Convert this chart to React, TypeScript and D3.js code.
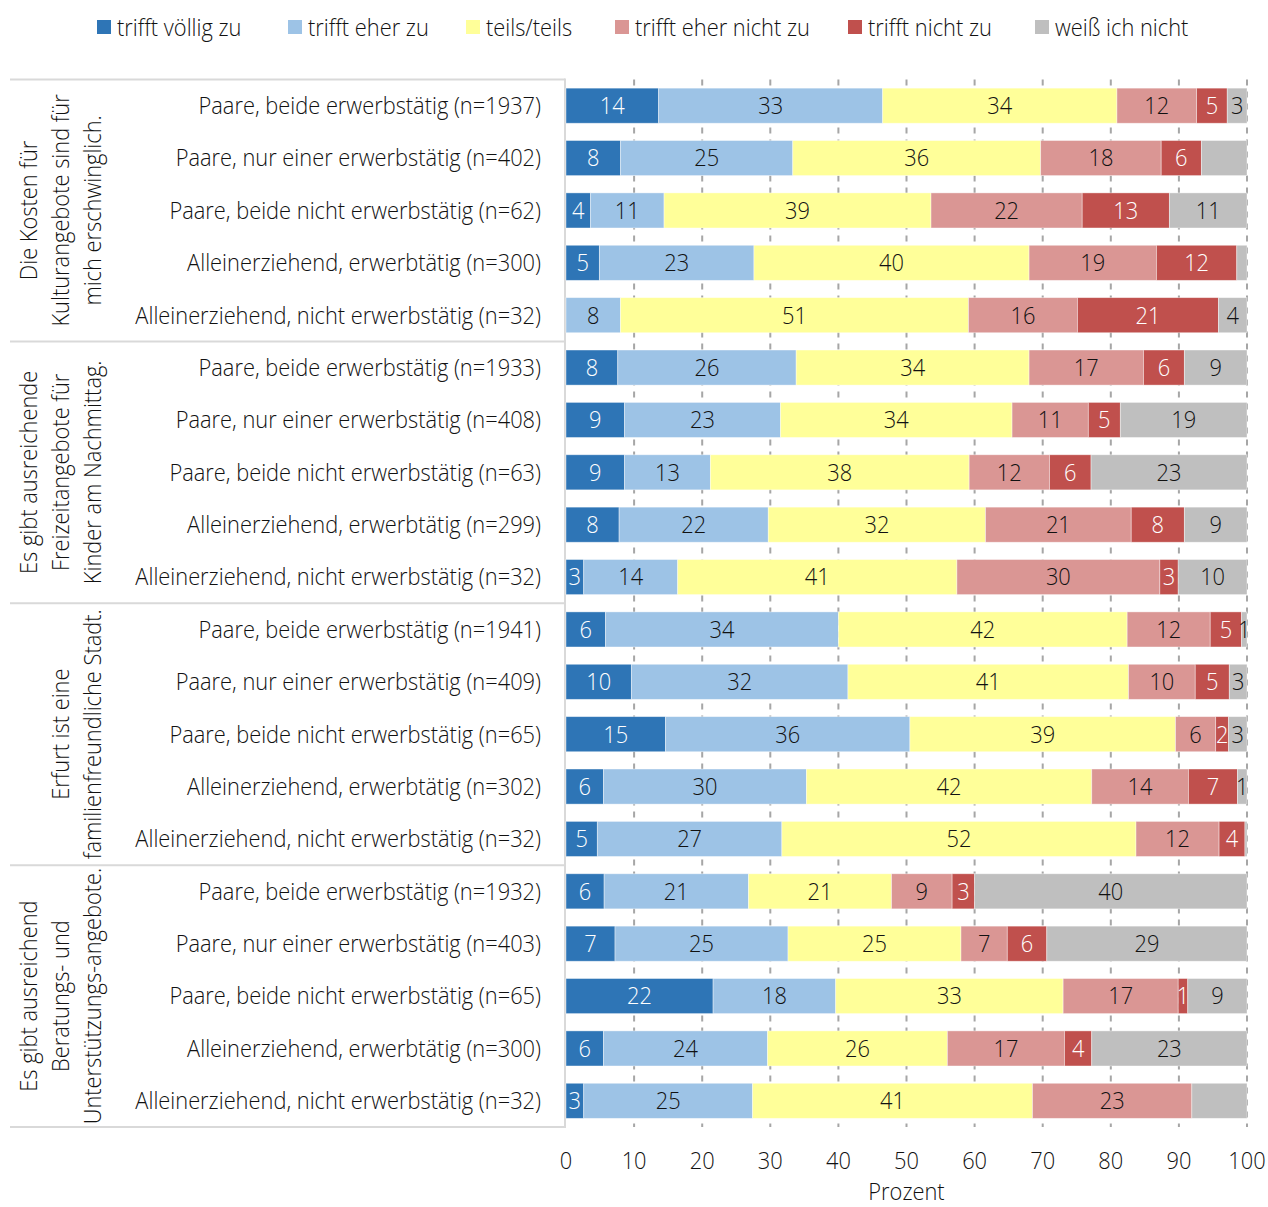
import React from "react";
import * as d3 from "d3";

const seriesNames = ["trifft völlig zu", "trifft eher zu", "teils/teils", "trifft eher nicht zu", "trifft nicht zu", "weiß ich nicht"];
const seriesColors = ["#2E75B6", "#9DC3E6", "#FFFF99", "#DA9694", "#C0504D", "#BFBFBF"];
const labelColors = ["#ffffff", "#111111", "#111111", "#111111", "#ffffff", "#111111"];

const categories = [
  "Paare, beide erwerbstätig (n=1937)",
  "Paare, nur einer erwerbstätig (n=402)",
  "Paare, beide nicht erwerbstätig (n=62)",
  "Alleinerziehend, erwerbtätig (n=300)",
  "Alleinerziehend, nicht erwerbstätig (n=32)",
  "Paare, beide erwerbstätig (n=1933)",
  "Paare, nur einer erwerbstätig (n=408)",
  "Paare, beide nicht erwerbstätig (n=63)",
  "Alleinerziehend, erwerbtätig (n=299)",
  "Alleinerziehend, nicht erwerbstätig (n=32)",
  "Paare, beide erwerbstätig (n=1941)",
  "Paare, nur einer erwerbstätig (n=409)",
  "Paare, beide nicht erwerbstätig (n=65)",
  "Alleinerziehend, erwerbtätig (n=302)",
  "Alleinerziehend, nicht erwerbstätig (n=32)",
  "Paare, beide erwerbstätig (n=1932)",
  "Paare, nur einer erwerbstätig (n=403)",
  "Paare, beide nicht erwerbstätig (n=65)",
  "Alleinerziehend, erwerbtätig (n=300)",
  "Alleinerziehend, nicht erwerbstätig (n=32)",
];

const groupLabels = [
  ["Die Kosten für", "Kulturangebote sind für", "mich erschwinglich."],
  ["Es gibt ausreichende", "Freizeitangebote für", "Kinder am Nachmittag."],
  ["Erfurt ist eine", "familienfreundliche Stadt."],
  ["Es gibt ausreichend", "Beratungs- und", "Unterstützungs-angebote."],
];

const trifftVoellig = [13.6, 8.0, 3.6, 4.9, 0, 7.6, 8.6, 8.6, 7.8, 2.6, 5.8, 9.6, 14.6, 5.5, 4.6, 5.6, 7.2, 21.6, 5.5, 2.6];
const trifftEher = [32.9, 25.3, 10.8, 22.7, 8.0, 26.2, 22.9, 12.6, 21.9, 13.8, 34.2, 31.8, 35.9, 29.8, 27.1, 21.2, 25.4, 18.0, 24.1, 24.8];
const teilsTeils = [34.4, 36.4, 39.2, 40.4, 51.1, 34.2, 34.0, 38.0, 31.9, 41.0, 42.4, 41.2, 39.0, 41.9, 52.0, 21.0, 25.4, 33.4, 26.4, 41.1];
const eherNicht = [11.7, 17.7, 22.2, 18.7, 16.0, 16.8, 11.2, 11.8, 21.4, 29.8, 12.2, 9.8, 5.9, 14.2, 12.2, 8.9, 6.8, 16.9, 17.2, 23.4];
const trifftNicht = [4.5, 5.9, 12.8, 11.8, 20.7, 6.0, 4.7, 6.1, 7.8, 2.7, 4.6, 5.0, 1.9, 7.2, 3.8, 3.3, 5.8, 1.4, 4.0, 0];
const weissNicht = [2.9, 6.7, 11.4, 1.5, 4.2, 9.2, 18.6, 22.9, 9.2, 10.1, 0.8, 2.6, 2.7, 1.4, 0.3, 40.0, 29.4, 8.7, 22.8, 8.1];

// labels not printed in the original: [row, series]
const hiddenLabels = [[1, 5], [3, 5], [14, 5], [19, 5]];

const xTicks = [0, 10, 20, 30, 40, 50, 60, 70, 80, 90, 100];
const xTitle = "Prozent";

const FONT = "'Open Sans', 'Noto Sans', sans-serif";
const FS = 24;
const SX = 0.91;

function T({ x, y, anchor = "start", rotate = 0, fill = "#111111", children }: any) {
  return (
    <text
      transform={`translate(${x},${y}) rotate(${rotate}) scale(${SX},1)`}
      textAnchor={anchor}
      dominantBaseline="central"
      fontSize={FS}
      fill={fill}
      style={{ fontFamily: FONT, fontStretch: "normal", fontWeight: 300 }}
    >
      {children}
    </text>
  );
}

export default function App() {
  const W = 1268, H = 1207;
  const top = 79.5, bottom = 1127;
  const x = d3.scaleLinear().domain([0, 100]).range([566, 1247]);
  const y = d3.scaleBand<number>().domain(d3.range(categories.length)).range([top, bottom]).paddingInner(0.33).paddingOuter(0.165);
  const series = [trifftVoellig, trifftEher, teilsTeils, eherNicht, trifftNicht, weissNicht];
  const table = categories.map((c, i) => {
    const o: any = { cat: i };
    series.forEach((s, k) => (o["s" + k] = s[i]));
    return o;
  });
  const stack = d3.stack<any>().keys(series.map((_, k) => "s" + k))(table);
  const isHidden = (r: number, k: number) => hiddenLabels.some(([a, b]) => a === r && b === k);
  const band = (bottom - top) / categories.length;
  const groupSep = [0, 5, 10, 15, 20].map((i) => top + i * band);
  const legendX = [97, 288, 466, 615, 848, 1035];
  const cyOf = (i: number) => y(i)! + y.bandwidth() / 2 - 1;

  return (
    <svg width={W} height={H} style={{ display: "block", position: "absolute", left: 0, top: 0, background: "#fff" }}>
      {/* legend */}
      {seriesNames.map((n, k) => (
        <g key={n}>
          <rect x={legendX[k]} y={20} width={14} height={14} fill={seriesColors[k]} />
          <T x={legendX[k] + 20} y={27}>{n}</T>
        </g>
      ))}
      {/* gridlines */}
      {xTicks.slice(1).map((t) => (
        <line key={t} x1={x(t)} x2={x(t)} y1={top} y2={bottom} stroke="#A6A6A6" strokeWidth={2} strokeDasharray="6,6" />
      ))}
      {/* frame lines */}
      {groupSep.map((gy, i) => (
        <line key={i} x1={10} x2={565} y1={gy} y2={gy} stroke="#D9D9D9" strokeWidth={2} />
      ))}
      <line x1={565} x2={565} y1={top - 1} y2={bottom + 1} stroke="#D9D9D9" strokeWidth={2} />
      {/* bars */}
      {stack.map((layer, k) => (
        <g key={k}>
          {layer.map((d, i) => {
            const w = x(d[1]) - x(d[0]);
            if (w <= 0) return null;
            return (
              <rect key={i} x={x(d[0])} y={y(i)} width={w} height={y.bandwidth()} fill={seriesColors[k]} stroke="#ffffff" strokeOpacity={0.5} strokeWidth={0.8} />
            );
          })}
          {layer.map((d, i) => {
            const v = series[k][i];
            if (v <= 0 || isHidden(i, k)) return null;
            return (
              <T key={"t" + i} x={(x(d[0]) + x(d[1])) / 2} y={cyOf(i)} anchor="middle" fill={labelColors[k]}>
                {Math.round(v)}
              </T>
            );
          })}
        </g>
      ))}
      {/* row labels */}
      {categories.map((c, i) => (
        <T key={i} x={541} y={cyOf(i)} anchor="end">{c}</T>
      ))}
      {/* group labels */}
      {groupLabels.map((lines, g) => {
        const cy = (groupSep[g] + groupSep[g + 1]) / 2;
        return lines.map((ln, j) => {
          const lx = 92 - (lines.length - 1 - j) * 32;
          return (
            <T key={g + "-" + j} x={lx} y={cy} rotate={-90} anchor="middle">{ln}</T>
          );
        });
      })}
      {/* x axis labels */}
      {xTicks.map((t) => (
        <T key={t} x={x(t)} y={1160} anchor="middle">{t}</T>
      ))}
      <T x={x(50)} y={1191} anchor="middle">{xTitle}</T>
    </svg>
  );
}
